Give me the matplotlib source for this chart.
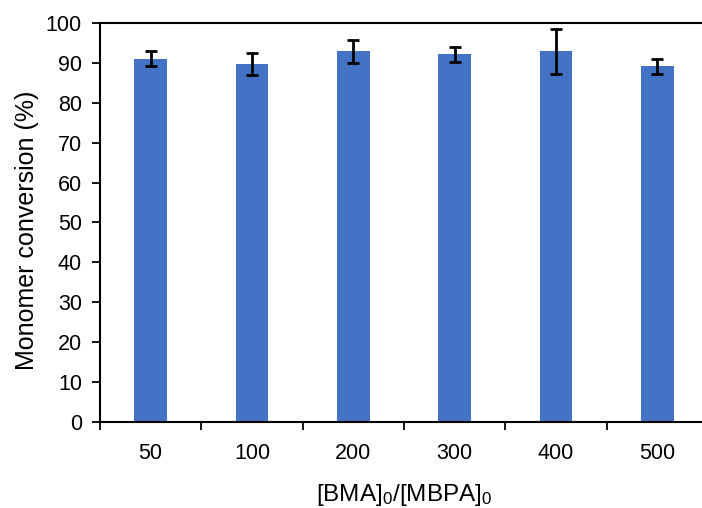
import matplotlib.pyplot as plt
import numpy as np

ratios = ["50", "100", "200", "300", "400", "500"]
conversion = [91.1, 89.8, 92.9, 92.2, 92.9, 89.1]
errors = [1.9, 2.8, 2.9, 1.9, 5.6, 1.8]

plt.rcParams['font.family'] = ['Liberation Sans', 'DejaVu Sans']
plt.rcParams['mathtext.fontset'] = 'custom'
plt.rcParams['mathtext.rm'] = 'Liberation Sans'
plt.rcParams['mathtext.it'] = 'Liberation Sans'

fig = plt.figure(figsize=(7.02, 5.08), dpi=100)
ax = fig.add_axes([100 / 702, 86 / 508, 608 / 702, 399 / 508])

x = np.arange(len(ratios))
ax.bar(x, conversion, width=0.32, color='#4472C4', zorder=2)
ax.errorbar(x, conversion, yerr=errors, fmt='none', ecolor='black',
            elinewidth=2, capsize=4, capthick=2, zorder=3)

ax.set_xlim(-0.5, len(ratios) - 0.5)
ax.set_ylim(0, 100)
ax.set_yticks(range(0, 101, 10))
ax.set_xticks(x)
ax.set_xticklabels(ratios)
ax.set_xticks(np.arange(-0.5, len(ratios), 1), minor=True)
ax.tick_params(axis='x', which='major', length=0, pad=15, labelsize=15.5)
ax.tick_params(axis='x', which='minor', length=6, width=1.3, direction='out')
ax.tick_params(axis='y', length=6, width=1.3, labelsize=15.5, pad=7)

ax.spines['right'].set_visible(False)
for s in ['left', 'bottom', 'top']:
    ax.spines[s].set_linewidth(1.5)

ax.set_ylabel('Monomer conversion (%)', fontsize=18)
ax.yaxis.set_label_coords(-0.10, 0.48)
ax.set_xlabel('[BMA]$_0$/[MBPA]$_0$', fontsize=17.5, labelpad=13)

plt.savefig('out.png', dpi=100)
